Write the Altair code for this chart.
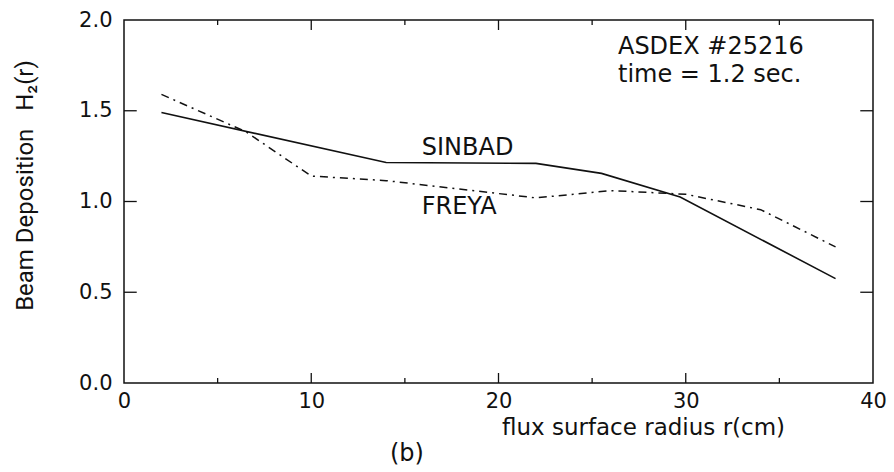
import altair as alt
import pandas as pd

# ---- data ----
sinbad_r = [2, 14, 22, 25.5, 29.7, 38]
sinbad_h = [1.49, 1.215, 1.21, 1.155, 1.025, 0.575]

freya_r = [2, 6.5, 10, 14, 22, 26, 30, 34, 38]
freya_h = [1.59, 1.385, 1.14, 1.115, 1.02, 1.06, 1.04, 0.955, 0.75]

x_labels = [0, 10, 20, 30, 40]
y_labels = [0.0, 0.5, 1.0, 1.5, 2.0]
x_major = [10, 20, 30]
x_minor = [5, 15, 25, 35]
y_major = [0.5, 1.0, 1.5]

ann_text = ["SINBAD", "FREYA", "ASDEX #25216", "time = 1.2 sec."]
ann_x = [15.9, 15.9, 26.38, 26.38]
ann_y = [1.254, 0.929, 1.81, 1.657]

# ---- styles ----
INK = "#111111"
FONT = "DejaVu Sans"
X0, X1, Y0, Y1 = 0, 40, 0, 2
XMAJ_LEN, XMIN_LEN, YMAJ_LEN = 0.055, 0.0275, 0.68

xs = alt.Scale(domain=[X0, X1], nice=False, zero=False)
ys = alt.Scale(domain=[Y0, Y1], nice=False, zero=False)

AX_X = alt.Axis(
    values=x_labels, format="d", ticks=False, tickSize=0, domain=False, grid=False,
    labelFont=FONT, labelFontSize=21, labelColor=INK, labelPadding=7,
    labelFlush=False, labelOverlap=False,
    title="flux surface radius r(cm)", titleFont=FONT, titleFontSize=23,
    titleFontWeight="normal", titleColor=INK, titleX=519, titleY=51,
    titleAlign="center", titleBaseline="alphabetic")
AX_Y = alt.Axis(
    values=y_labels, format=".1f", ticks=False, tickSize=0, domain=False, grid=False,
    labelFont=FONT, labelFontSize=21, labelColor=INK, labelPadding=12,
    labelFlush=False, labelOverlap=False,
    title="Beam Deposition\u00a0\u00a0\u00a0H\u2082(r)", titleFont="Roboto",
    titleFontSize=24, titleFontWeight="normal", titleColor=INK,
    titleX=-92, titleY=165, titleAlign="center", titleBaseline="alphabetic")

sinbad = pd.DataFrame({"r": sinbad_r, "h": sinbad_h})
freya = pd.DataFrame({"r": freya_r, "h": freya_h})

sinbad_line = alt.Chart(sinbad).mark_line(color=INK, strokeWidth=1.6).encode(
    x=alt.X("r:Q", scale=xs, axis=AX_X),
    y=alt.Y("h:Q", scale=ys, axis=AX_Y),
)

freya_line = alt.Chart(freya).mark_line(
    color=INK, strokeWidth=1.5, strokeDash=[8, 5, 2, 5]).encode(
    x=alt.X("r:Q", scale=xs, axis=AX_X),
    y=alt.Y("h:Q", scale=ys, axis=AX_Y),
)

# inward ticks on all four sides
def xticks(vals, length):
    df = pd.DataFrame({"t": vals})
    bottom = alt.Chart(df).mark_rule(color=INK, strokeWidth=1.3).encode(
        x=alt.X("t:Q", scale=xs, axis=AX_X),
        y=alt.datum(Y0, scale=ys, axis=AX_Y), y2=alt.datum(Y0 + length))
    top = alt.Chart(df).mark_rule(color=INK, strokeWidth=1.3).encode(
        x=alt.X("t:Q", scale=xs, axis=AX_X),
        y=alt.datum(Y1, scale=ys, axis=AX_Y), y2=alt.datum(Y1 - length))
    return [bottom, top]

def yticks(vals, length):
    df = pd.DataFrame({"t": vals})
    left = alt.Chart(df).mark_rule(color=INK, strokeWidth=1.3).encode(
        y=alt.Y("t:Q", scale=ys, axis=AX_Y),
        x=alt.datum(X0, scale=xs, axis=AX_X), x2=alt.datum(X0 + length))
    right = alt.Chart(df).mark_rule(color=INK, strokeWidth=1.3).encode(
        y=alt.Y("t:Q", scale=ys, axis=AX_Y),
        x=alt.datum(X1, scale=xs, axis=AX_X), x2=alt.datum(X1 - length))
    return [left, right]

tick_layers = xticks(x_major, XMAJ_LEN) + xticks(x_minor, XMIN_LEN) + yticks(y_major, YMAJ_LEN)

ann = pd.DataFrame({"t": ann_text, "x": ann_x, "y": ann_y})
ann_layer = alt.Chart(ann).mark_text(
    font=FONT, fontSize=24, color=INK, align="left", baseline="alphabetic").encode(
    x=alt.X("x:Q", scale=xs, axis=AX_X),
    y=alt.Y("y:Q", scale=ys, axis=AX_Y),
    text="t:N")

panel = pd.DataFrame({"t": ["(b)"], "x": [15.11], "y": [-0.43]})
panel_layer = alt.Chart(panel).mark_text(
    font=FONT, fontSize=24, color=INK, align="center", baseline="alphabetic").encode(
    x=alt.X("x:Q", scale=xs, axis=AX_X),
    y=alt.Y("y:Q", scale=ys, axis=AX_Y),
    text="t:N")

chart = alt.layer(sinbad_line, freya_line, *tick_layers, ann_layer, panel_layer).properties(
    width=749, height=363,
    autosize=alt.AutoSizeParams(type="none"),
    padding={"left": 124, "top": 20, "right": 21, "bottom": 89},
    background="white",
).configure_view(stroke=INK, strokeWidth=1.5)

chart.save("out.html", embed_options={"renderer": "svg", "actions": False})
